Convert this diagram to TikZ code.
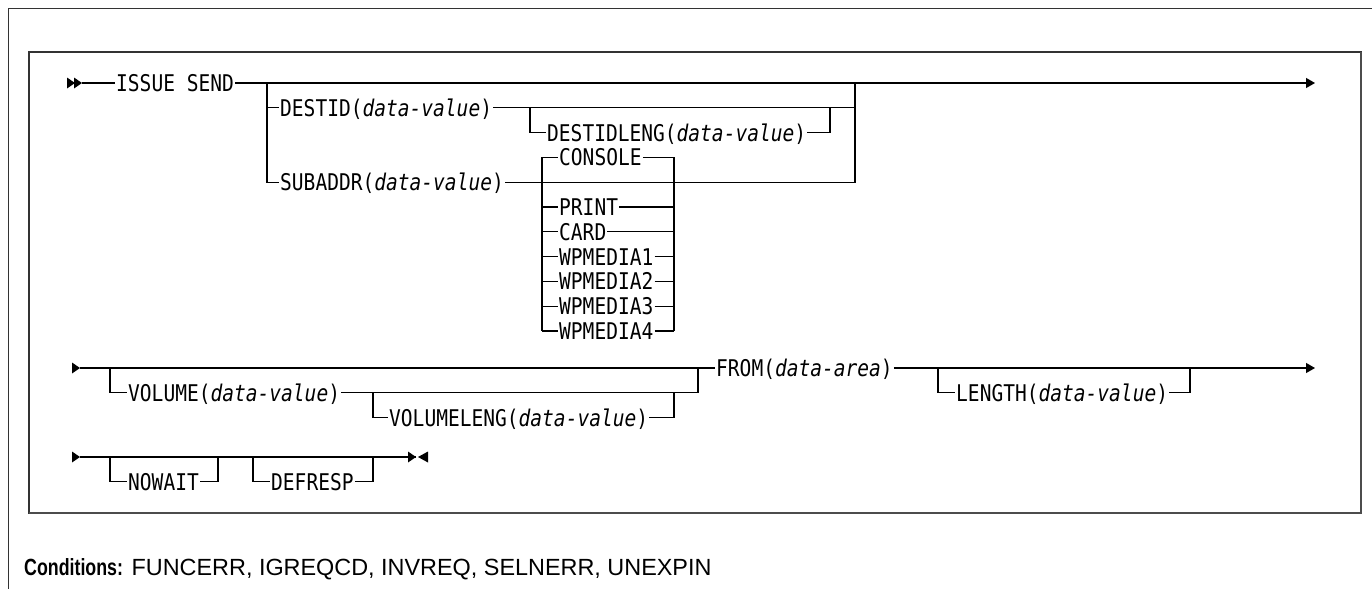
\documentclass[tikz,border=0pt]{standalone}
\usepackage{fontspec}
\setmainfont{Liberation Sans}
\newfontfamily\railfont[FakeStretch=0.85]{DejaVu Sans Mono}
\newfontfamily\condfont[BoldFeatures={FakeStretch=0.76}]{Liberation Sans}
\usetikzlibrary{positioning, calc, arrows.meta}

\begin{document}
\begin{tikzpicture}[
  x=1pt, y=-1pt,
  font=\railfont\fontsize{23}{27}\selectfont,
  kw/.style={inner xsep=1pt, inner ysep=0pt, text height=16.8pt, text depth=0pt, anchor=west},
  rail/.style={line width=1.1pt},
  endarrow/.style={-{Triangle[length=9pt,width=10pt]}},
]
\useasboundingbox (0,0) rectangle (1372,589);

% row y positions and row step
\pgfmathsetmacro{\yA}{83}
\pgfmathsetmacro{\yB}{368}
\pgfmathsetmacro{\yC}{457}
\pgfmathsetmacro{\rs}{24.8}

% ---- frames ----
\draw[line width=1pt, black!80] (1372,8) -- (8,8) -- (8,589);
\draw[line width=1.3pt, black!80] (29,52) rectangle (1361,513);
\draw[line width=2pt, black!70] (29,513) -- (1361,513) -- (1361,52);

% ---- row 1 ----
\node[kw] (issue) at (115,\yA) {ISSUE SEND};
\node[kw] (destid) at (279,\yA+\rs) {DESTID(\textit{data-value})};
\node[kw] (destidleng) at (546,\yA+2*\rs) {DESTIDLENG(\textit{data-value})};
\node[kw] (subaddr) at (279,\yA+4*\rs) {SUBADDR(\textit{data-value})};
\foreach \name/\k in {CONSOLE/-1, PRINT/1, CARD/2, WPMEDIA1/3, WPMEDIA2/4, WPMEDIA3/5, WPMEDIA4/6} {
  \node[kw] (\name) at (558,\yA+4*\rs+\k*\rs) {\name};
}

\coordinate (startA) at (82,\yA);
\coordinate (brA) at (267,\yA);
\coordinate (brB) at (855,\yA);
\coordinate (dlA) at (530,\yA+\rs);
\coordinate (dlB) at (830,\yA+\rs);
\coordinate (stL) at (542,\yA);
\coordinate (stR) at (674,\yA);
\coordinate (endA) at (1315,\yA);

\draw[rail] (startA) -- (issue.west);
\draw[rail, endarrow] (issue.east) -- (endA);
\draw[rail] (brA) -- (brA |- subaddr.west) -- (subaddr.west);
\draw[rail] (brA |- destid.west) -- (destid.west);
\draw[rail] (destid.east) -- (brB |- destid.east);
\draw[rail] (subaddr.east) -- (brB |- subaddr.east) -- (brB);
\draw[rail] (dlA) -- (dlA |- destidleng.west) -- (destidleng.west);
\draw[rail] (destidleng.east) -- (dlB |- destidleng.east) -- (dlB);

% stacked choices under SUBADDR
\draw[rail] (stL |- CONSOLE.west) -- (stL |- WPMEDIA4.west);
\draw[rail] (stR |- CONSOLE.east) -- (stR |- WPMEDIA4.east);
\foreach \name in {CONSOLE, PRINT, CARD, WPMEDIA1, WPMEDIA2, WPMEDIA3, WPMEDIA4} {
  \draw[rail] (stL |- \name.west) -- (\name.west);
  \draw[rail] (\name.east) -- (stR |- \name.east);
}

% ---- row 2 ----
\node[kw] (volume) at (127,\yB+\rs) {VOLUME(\textit{data-value})};
\node[kw] (volumeleng) at (388,\yB+2*\rs) {VOLUMELENG(\textit{data-value})};
\node[kw] (from) at (715,\yB) {FROM(\textit{data-area})};
\node[kw] (length) at (955,\yB+\rs) {LENGTH(\textit{data-value})};

\coordinate (startB) at (80,\yB);
\coordinate (voA) at (110,\yB);
\coordinate (voB) at (698,\yB);
\coordinate (vlA) at (373,\yB+\rs);
\coordinate (vlB) at (674,\yB+\rs);
\coordinate (leA) at (938,\yB);
\coordinate (leB) at (1190,\yB);
\coordinate (endB) at (1315,\yB);

\draw[rail] (startB) -- (from.west);
\draw[rail, endarrow] (from.east) -- (endB);
\draw[rail] (voA) -- (voA |- volume.west) -- (volume.west);
\draw[rail] (volume.east) -- (voB |- volume.east) -- (voB);
\draw[rail] (vlA) -- (vlA |- volumeleng.west) -- (volumeleng.west);
\draw[rail] (volumeleng.east) -- (vlB |- volumeleng.east) -- (vlB);
\draw[rail] (leA) -- (leA |- length.west) -- (length.west);
\draw[rail] (length.east) -- (leB |- length.east) -- (leB);

% ---- row 3 ----
\node[kw] (nowait) at (127,\yC+\rs) {NOWAIT};
\node[kw] (defresp) at (270,\yC+\rs) {DEFRESP};

\coordinate (startC) at (80,\yC);
\coordinate (nwA) at (110,\yC);
\coordinate (nwB) at (218,\yC);
\coordinate (drA) at (253,\yC);
\coordinate (drB) at (373,\yC);
\coordinate (endC) at (416,\yC);

\draw[rail] (startC) -- (endC);
\draw[rail] (nwA) -- (nwA |- nowait.west) -- (nowait.west);
\draw[rail] (nowait.east) -- (nwB |- nowait.east) -- (nwB);
\draw[rail] (drA) -- (drA |- defresp.west) -- (defresp.west);
\draw[rail] (defresp.east) -- (drB |- defresp.east) -- (drB);

% ---- start, continue and end marks ----
\foreach \x/\y in {75/\yA, 82/\yA, 80/\yB, 80/\yC, 416/\yC} {
  \fill (\x-8,\y-5.5) -- (\x,\y) -- (\x-8,\y+5.5) -- cycle;
}
\fill (428,\yC-5.5) -- (418,\yC) -- (428,\yC+5.5) -- cycle;

% ---- conditions ----
\node[anchor=base west, inner sep=0pt, font=\condfont\fontsize{23.4}{28}\selectfont] (cond) at (24,575)
  {\textbf{Conditions:} FUNCERR, IGREQCD, INVREQ, SELNERR, UNEXPIN};
\end{tikzpicture}
\end{document}
